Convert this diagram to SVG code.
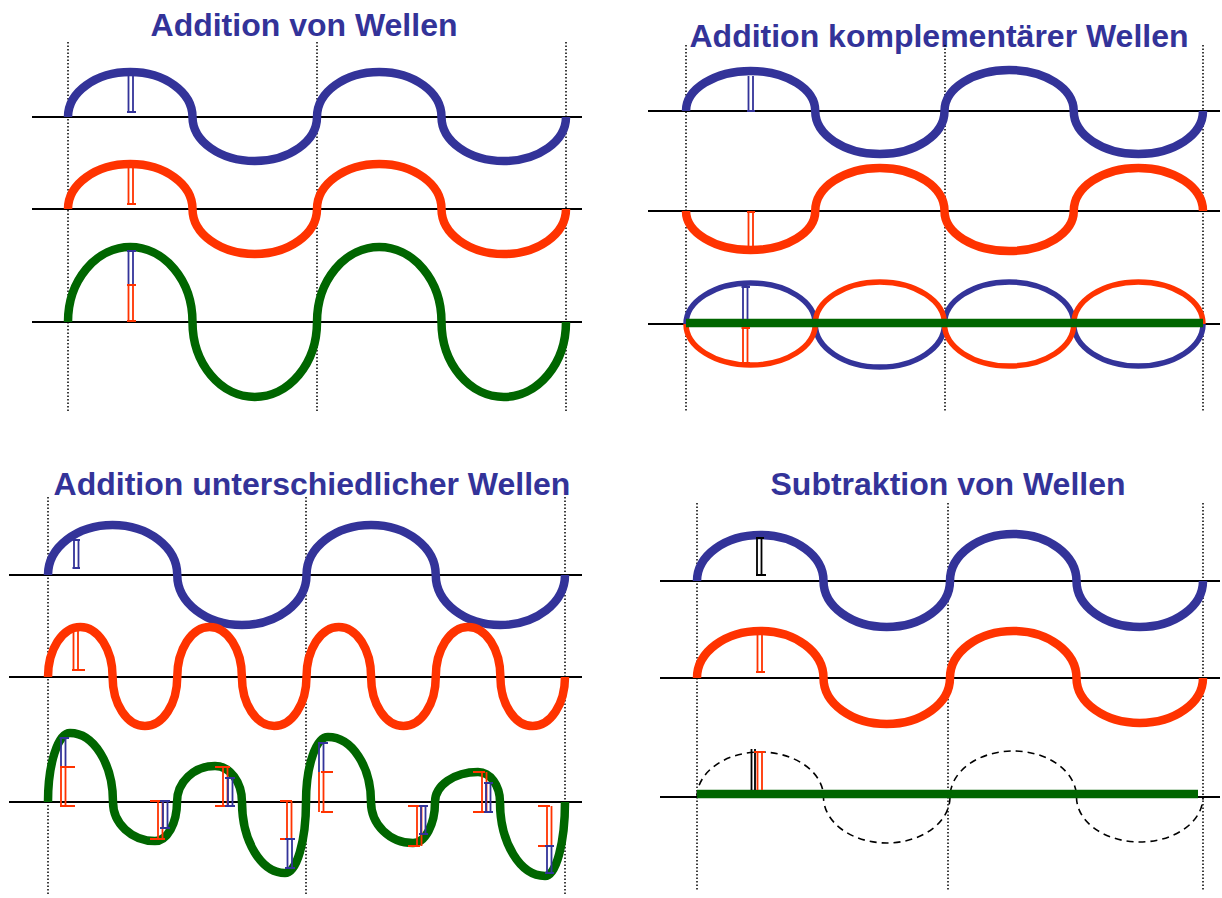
<svg xmlns="http://www.w3.org/2000/svg" width="1222" height="898" viewBox="0 0 1222 898">
<style>
.title{font-family:"Liberation Sans",Arial,Helvetica,sans-serif;font-weight:bold;font-size:32px;fill:#333399;text-anchor:middle}
.axis{stroke:#000;stroke-width:2;fill:none}
.dot{stroke:#000;stroke-width:1.5;stroke-dasharray:1.5 2;fill:none}
.wb{stroke:#333399;stroke-width:8.5;fill:none}
.wr{stroke:#FF3300;stroke-width:8.5;fill:none}
.wg{stroke:#006600;stroke-width:8.5;fill:none}
.eb{stroke:#333399;stroke-width:5.5;fill:none}
.er{stroke:#FF3300;stroke-width:5.5;fill:none}
.dash{stroke:#000;stroke-width:1.6;stroke-dasharray:7 5;fill:none}
.mb{stroke:#333399;stroke-width:1.8;fill:none}
.mr{stroke:#FF3300;stroke-width:1.8;fill:none}
.mk{stroke:#000;stroke-width:1.8;fill:none}
</style>
<rect width="1222" height="898" fill="#fff"/>

<g id="panel-addition">
<text class="title" x="304" y="36">Addition von Wellen</text>
<path class="dot" d="M68,42V412M317,42V412M566,42V412"/>
<path class="axis" d="M32,117H582M32,209H582M32,322H582"/>
<path class="wb" d="M68,117A62.25,45 0 0 1 192.5,117A62.25,44 0 0 0 317,117A62.25,45 0 0 1 441.5,117A62.25,44 0 0 0 566,117"/>
<path class="wr" d="M68,209A62.25,45 0 0 1 192.5,209A62.25,45 0 0 0 317,209A62.25,45 0 0 1 441.5,209A62.25,45 0 0 0 566,209"/>
<path class="wg" d="M68,322A62.25,75 0 0 1 192.5,322A62.25,75 0 0 0 317,322A62.25,75 0 0 1 441.5,322A62.25,75 0 0 0 566,322"/>
<path class="mb" d="M128.5,76V112M133,76V112M127,112H136"/>
<path class="mr" d="M128.5,168V204M133,168V204M127,204H136"/>
<path class="mb" d="M128.5,251V285M133,251V285M127,251H136"/>
<path class="mr" d="M128.5,285V321M133,285V321M127,285H136M127,321H136"/>
</g>

<g id="panel-komplementaer">
<text class="title" x="939" y="47">Addition komplementärer Wellen</text>
<path class="dot" d="M686,45V412M945,45V412M1203,45V412"/>
<path class="axis" d="M648,111H1220M648,211H1220M648,324H1220"/>
<path class="wb" d="M686,111A64.6,40 0 0 1 815.25,111A64.6,43 0 0 0 944.5,111A64.6,41 0 0 1 1073.75,111A64.6,43 0 0 0 1203,111"/>
<path class="wr" d="M686,211A64.6,39 0 0 0 815.25,211A64.6,43 0 0 1 944.5,211A64.6,40 0 0 0 1073.75,211A64.6,43 0 0 1 1203,211"/>
<path class="eb" d="M686,324A64.6,41 0 0 1 815.25,324A64.6,43 0 0 0 944.5,324A64.6,42 0 0 1 1073.75,324A64.6,42 0 0 0 1203,324"/>
<path class="er" d="M686,324A64.6,41 0 0 0 815.25,324A64.6,42 0 0 1 944.5,324A64.6,42 0 0 0 1073.75,324A64.6,42 0 0 1 1203,324"/>
<path class="wg" d="M686,323H1203"/>
<path class="mb" d="M748.5,76V111M753,76V111M747,111H755"/>
<path class="mr" d="M748.5,212V247M753,212V247M747,212H755M747,247H755"/>
<path class="mb" d="M743,287V319M747.5,287V319M741.5,287H750"/>
<path class="mr" d="M743,328V363M747.5,328V363M741.5,328H750M741.5,363H750"/>
</g>

<g id="panel-unterschiedlich">
<text class="title" x="312" y="495">Addition unterschiedlicher Wellen</text>
<path class="dot" d="M48,497V895M306,497V895M565,497V895"/>
<path class="axis" d="M9,575H582M9,677H582M9,802H582"/>
<path class="wb" d="M48,575A64.6,50 0 0 1 177.25,575A64.6,50 0 0 0 306.5,575A64.6,50 0 0 1 435.75,575A64.6,50 0 0 0 565,575"/>
<path class="wr" d="M48,677A32.3,50 0 0 1 112.6,677A32.3,49 0 0 0 177.25,677A32.3,50 0 0 1 241.9,677A32.3,49 0 0 0 306.5,677A32.3,50 0 0 1 371.1,677A32.3,49 0 0 0 435.75,677A32.3,50 0 0 1 500.4,677A32.3,49 0 0 0 565,677"/>
<path class="wg" d="M48,802C48,763.9 57.9,733 70,733C93.7,733 113,763.9 113,802C113,823.5 131.8,841 155,841C167.1,841 177,823.5 177,802C177,782.1 194,766 215,766C229.9,766 242,782.1 242,802C242,841.2 261.3,873 285,873C296.6,873 306,841.2 306,802C306,766.1 315.9,737 328,737C351.7,737 371,766.1 371,802C371,824.6 389.8,843 413,843C425.1,843 435,824.6 435,802C435,785.4 454.3,772 478,772C490.1,772 500,785.4 500,802C500,842.8 520.2,876 545,876C556,876 565,842.8 565,802"/>
<path class="mb" d="M74,540V568M78.5,540V568M72.5,540H80M72.5,568H80"/>
<path class="mr" d="M73.5,631V670M78,631V670M72,670H85"/>
<path class="mb" d="M61,738V767M65.5,738V767M59.5,738H69"/>
<path class="mr" d="M61,767V806M65.5,767V806M60,767H75M60,806H75"/>
<path class="mr" d="M158,801V839M162.5,801V839M150,801H165M150,839H165"/>
<path class="mb" d="M163,801V828M167.5,801V828M160,801H170M160,828H170"/>
<path class="mr" d="M223,767V806M227.5,767V806M215,767H230M215,806H230"/>
<path class="mb" d="M228,778V806M232.5,778V806M225,778H235M225,806H235"/>
<path class="mr" d="M287,801V839M291.5,801V839M280,801H292M280,839H292"/>
<path class="mb" d="M287.5,839V868M292,839V868M285,839H295M285,868H295"/>
<path class="mb" d="M319,743V772M323.5,743V772M318,743H328"/>
<path class="mr" d="M319,772V812M323.5,772V812M321,772H333M321,812H333"/>
<path class="mr" d="M417,806V846M421.5,806V846M408,806H420M408,846H420"/>
<path class="mb" d="M421,806V834M425.5,806V834M419,806H428M419,834H428"/>
<path class="mr" d="M482,772V812M486.5,772V812M473,772H485M473,812H485"/>
<path class="mb" d="M486,783V812M490.5,783V812M484,783H493M484,812H493"/>
<path class="mr" d="M547,806V846M551.5,806V846M538,806H550M538,846H550"/>
<path class="mb" d="M547,846V873M551.5,846V873M545,846H554M545,873H554"/>
</g>

<g id="panel-subtraktion">
<text class="title" x="948" y="495">Subtraktion von Wellen</text>
<path class="dot" d="M697,503V890M948,503V890M1203,503V890"/>
<path class="axis" d="M660,581H1220M660,678H1220M660,797H1220"/>
<path class="wb" d="M697,581A63.25,46 0 0 1 823.5,581A63.25,46 0 0 0 950,581A63.25,47 0 0 1 1076.5,581A63.25,46 0 0 0 1203,581"/>
<path class="wr" d="M697,678A63.25,47 0 0 1 823.5,678A63.25,46 0 0 0 950,678A63.25,47 0 0 1 1076.5,678A63.25,45 0 0 0 1203,678"/>
<path class="dash" d="M697,797A63.25,45 0 0 1 823.5,797A63.25,46 0 0 0 950,797A63.25,46 0 0 1 1076.5,797A63.25,45 0 0 0 1203,797"/>
<path class="wg" d="M697,794H1198"/>
<path class="mk" d="M757,538V575M761.5,538V575M756,538H764M756,575H766"/>
<path class="mr" d="M757.5,631V672M762,631V672M756,672H765"/>
<path class="mk" d="M751.5,749V790M755,749V790"/>
<path class="mr" d="M757.5,752V790M762,752V790M754,752H765"/>
</g>
</svg>
